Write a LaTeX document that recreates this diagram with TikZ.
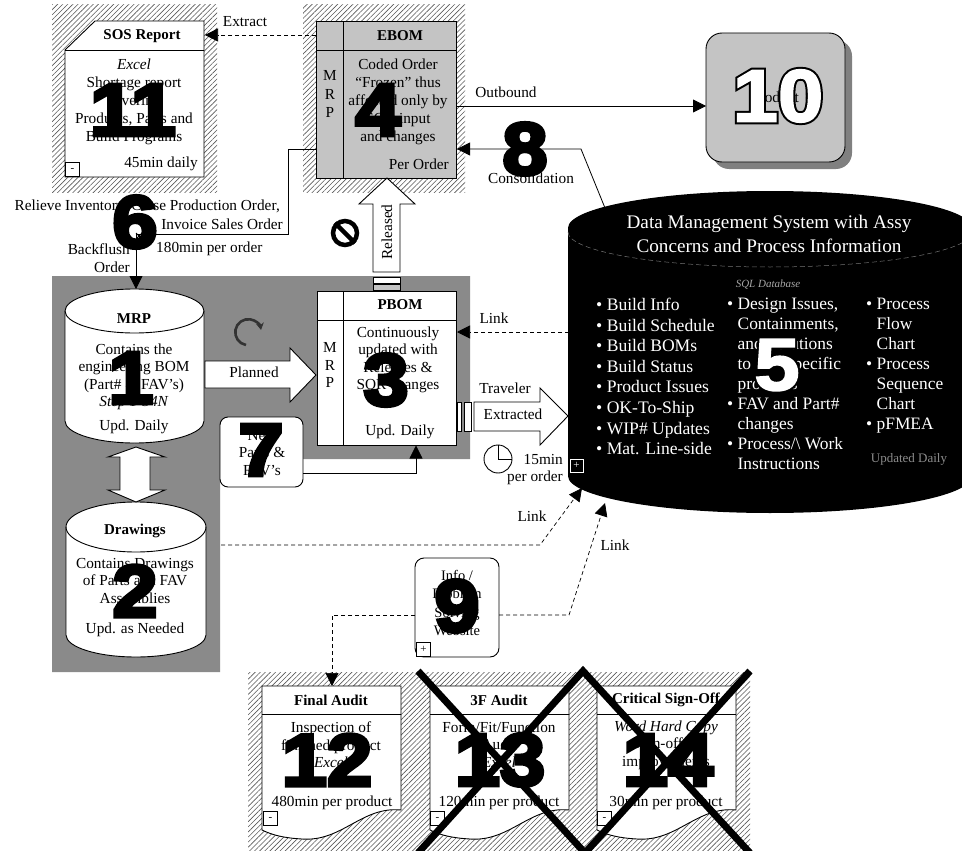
\documentclass[tikz,border=0pt]{standalone}
\usepackage{fontspec}
\setmainfont{Liberation Serif}
\newfontfamily\digitfont[FakeBold=5,FakeStretch=1.1]{Liberation Sans Bold}
\newfontfamily\outfont[FakeBold=8,FakeStretch=1.1]{Liberation Sans Bold}
\newfontfamily\infont[FakeBold=2.5,FakeStretch=1.1]{Liberation Sans Bold}
\usetikzlibrary{arrows.meta,patterns.meta,calc}
\tikzset{
 hatch/.style={pattern={Lines[angle=45,distance=3.6pt,line width=.6pt]},pattern color=black!65},
 zone/.style={fill=black!46,draw=none},
 boxbase/.style={rectangle,draw=black,line width=.9pt,inner sep=0,fill=#1},
 boxbase/.default=white,
 rule/.style={line width=.9pt},
 txt/.style={font=\fontsize{15.3}{18}\selectfont,align=center,inner sep=0,text=black},
 txts/.style={font=\fontsize{15.3}{17.5}\selectfont,align=center,inner sep=0,text=black},
 ttl/.style={font=\fontsize{15}{18}\selectfont\bfseries,inner sep=0},
 lab/.style={font=\fontsize{15.3}{17}\selectfont,inner sep=0,align=left},
 dbtxt/.style={font=\fontsize{17.6}{20.6}\selectfont,inner sep=0,align=left,text=white},
 flow/.style={line width=.8pt,-{Triangle[length=13pt,width=13pt]}},
 link/.style={line width=.7pt,dash pattern=on 4pt off 3pt,-{Triangle[length=13pt,width=13pt]}},
 blockarrow/.style={draw=black,fill=white,line width=.9pt},
 big/.style={font=\fontsize{74}{74}\selectfont\digitfont,inner sep=0,text=black},
 bigo/.style={font=\fontsize{74}{74}\selectfont\outfont,inner sep=0,text=black},
 bigi/.style={font=\fontsize{74}{74}\selectfont\infont,inner sep=0,text=white},
 tog/.style={rectangle,draw=black,line width=.8pt,fill=white,minimum size=14pt,inner sep=0,font=\fontsize{11}{11}\selectfont},
}
\newcommand{\docshape}[1]{%
 \fill[white] (#1,686) -- (#1+139,686) -- (#1+139,810) .. controls (#1+100,806) and (#1+80,842) .. (#1+40,839) .. controls (#1+22,838) and (#1+10,835) .. (#1,830) -- cycle;
 \draw[line width=.9pt] (#1,686) -- (#1+139,686) -- (#1+139,810) .. controls (#1+100,806) and (#1+80,842) .. (#1+40,839) .. controls (#1+22,838) and (#1+10,835) .. (#1,830) -- cycle;
 \draw[rule] (#1,714) -- (#1+139,714);
}
\begin{document}
\begin{tikzpicture}[x=1pt,y=-1pt]
\clip (0,0) rectangle (962,851);
\fill[white] (0,0) rectangle (962,851);
% backdrops
\fill[hatch] (52,5) rectangle (217,192);
\fill[hatch] (303,5) rectangle (465,192);
\fill[hatch] (248,672) rectangle (750,851);
\fill[zone] (52,276) -- (470,276) -- (470,459) -- (220,459) -- (220,672) -- (52,672) -- cycle;

% SOS report
\fill[white] (95,21) -- (204,21) -- (204,177) -- (65,177) -- (65,50) -- cycle;
\draw[line width=.9pt] (95,21) -- (204,21) -- (204,177) -- (65,177) -- (65,50) -- cycle;
\draw[rule] (65,50) -- (204,50);
\node[ttl] (sosT) at (142,36) {SOS Report};
\node[txt] (sosB) at (134,102) {\textit{Excel}\\Shortage report\\covering\\Products, Parts and\\Build Programs};
\node[txt,anchor=east] (sosF) at (198,164) {45min daily};
\node[tog,anchor=south west] (sosM) at (65,177) {-};

% EBOM
\node[boxbase=black!23,minimum width=140pt,minimum height=157pt] (ebom) at (386,99.5) {};
\draw[rule] (343,21) -- (343,178);
\draw[rule] (316,50) -- (456,50);
\node[ttl] (ebomT) at (400,36) {EBOM};
\node[txt,font=\fontsize{15.3}{18.2}\selectfont] (ebomM) at (330,94) {M\\R\\P};
\node[txt] (ebomB) at (398,102) {Coded Order\\“Frozen” thus\\affected only by\\SOR input\\and changes};
\node[txt,anchor=east] (ebomF) at (449,164) {Per Order};

% Product
\fill[black!50,rounded corners=16pt] (713,40) rectangle (852,169);
\node[boxbase=black!23,rounded corners=16pt,minimum width=139pt,minimum height=129pt] (prod) at (775.5,97.5) {};
\node[txt] (prodT) at (775,97) {Product};

% MRP cylinder
\filldraw[fill=white,line width=.9pt] (65,311) arc[start angle=180,end angle=0,x radius=69.5pt,y radius=22pt] -- (204,421) arc[start angle=360,end angle=180,x radius=69.5pt,y radius=22pt] -- cycle;
\draw[line width=.9pt] (65,311) arc[start angle=180,end angle=360,x radius=69.5pt,y radius=22pt];
\node[inner sep=0,minimum width=139pt,minimum height=154pt] (mrp) at (134.5,366) {};
\node[ttl] (mrpT) at (134,319) {MRP};
\node[txts] (mrpB) at (134,377) {Contains the\\engineering BOM\\(Part\# \& FAV’s)\\\textit{Step 1-34N}};
\node[txt] (mrpF) at (134,427) {Upd. Daily};

% Drawings cylinder
\filldraw[fill=white,line width=.9pt] (66,527) arc[start angle=180,end angle=0,x radius=70pt,y radius=25pt] -- (206,635) arc[start angle=360,end angle=180,x radius=70pt,y radius=22pt] -- cycle;
\draw[line width=.9pt] (66,527) arc[start angle=180,end angle=360,x radius=70pt,y radius=25pt];
\node[inner sep=0,minimum width=140pt,minimum height=155pt] (drw) at (136,579.5) {};
\node[ttl] (drwT) at (135,531) {Drawings};
\node[txts] (drwB) at (135,581) {Contains Drawings\\of Parts and FAV\\Assemblies};
\node[txt] (drwF) at (135,630) {Upd. as Needed};

% double arrow MRP <-> Drawings
\draw[blockarrow] (136,447) -- (165,457) -- (150,457) -- (150,490) -- (165,490) -- (136,502) -- (108,490) -- (120,490) -- (120,457) -- (108,457) -- cycle;

% PBOM
\node[boxbase,minimum width=139pt,minimum height=154pt] (pbom) at (386.5,368) {};
\draw[rule] (343,291) -- (343,445);
\draw[rule] (317,320) -- (456,320);
\node[ttl] (pbomT) at (400,305) {PBOM};
\node[txt,font=\fontsize{15.3}{17.6}\selectfont] (pbomM) at (330,365) {M\\R\\P};
\node[txts] (pbomB) at (398,360) {Continuously\\updated with\\Releases \&\\SOR changes};
\node[txt] (pbomF) at (400,432) {Upd. Daily};

% Planned arrow
\draw[blockarrow] (205,361) -- (290,361) -- (290,348) -- (316,375) -- (290,402) -- (290,388) -- (205,388) -- cycle;
\node[lab] (plan) at (254,372) {Planned};

% rotate icon
\coordinate (rotS) at (246,345);
\draw[line width=2.6pt,black!80,-{Stealth[length=7pt,width=8pt]}] (rotS) arc[start angle=260,end angle=10,radius=13pt];

% New Parts
\node[boxbase,rounded corners=8pt,minimum width=83pt,minimum height=70pt] (newp) at (261.5,452) {};
\node[txts] (newpT) at (262,453) {New\\Parts \&\\FAV’s};
\coordinate (newOut) at (303,473);
\coordinate (pbomIn) at (416,445.5);
\draw[flow] (newOut) -| (pbomIn);

% Released arrow
\draw[blockarrow] (387,178) -- (415,204) -- (400,204) -- (400,272) -- (373,272) -- (373,204) -- (359,204) -- cycle;
\node[lab,rotate=90] (rel) at (387,232) {Released};
\node[boxbase,minimum width=27pt,minimum height=6.5pt] (relA) at (386.5,280.5) {};
\node[boxbase=black!23,minimum width=27pt,minimum height=6pt] (relB) at (386.5,287) {};

% no entry
\node[circle,draw=black,line width=4.5pt,minimum size=24pt,inner sep=0] (noent) at (345,233) {};
\draw[line width=4.5pt] (noent.135) -- (noent.-45);

% Data management system
\fill[black] (568,228) arc[start angle=180,end angle=0,x radius=202pt,y radius=37pt] -- (972,476) arc[start angle=360,end angle=180,x radius=202pt,y radius=37pt] -- cycle;
\draw[black!55,line width=.5pt,dash pattern=on 5pt off 3pt] (568,232) arc[start angle=180,end angle=360,x radius=202pt,y radius=35pt];
\node[inner sep=0,minimum width=404pt,minimum height=322pt] (db) at (770,352) {};
\node[dbtxt,align=center,font=\fontsize{19.2}{24}\selectfont] (dbT) at (769,234) {Data Management System with Assy\\Concerns and Process Information};
\node[font=\fontsize{11}{13}\selectfont\itshape,text=black!35,inner sep=0] (dbS) at (768,285) {SQL Database};
\node[dbtxt,anchor=north west] (dbA) at (596,298) {• Build Info\\• Build Schedule\\• Build BOMs\\• Build Status\\• Product Issues\\• OK-To-Ship\\• WIP\# Updates\\• Mat. Line-side};
\node[dbtxt,anchor=north west,font=\fontsize{17.4}{20}\selectfont] (dbB) at (727,298) {• Design Issues,\\\phantom{• }Containments,\\\phantom{• }and Solutions\\\phantom{• }to \phantom{unit} specific\\\phantom{• }products\\• FAV and Part\#\\\phantom{• }changes\\• Process/\textbackslash\ Work\\\phantom{• }Instructions};
\node[dbtxt,anchor=north west,font=\fontsize{17.4}{20}\selectfont] (dbC) at (866,298) {• Process\\\phantom{• }Flow\\\phantom{• }Chart\\• Process\\\phantom{• }Sequence\\\phantom{• }Chart\\• pFMEA};
\node[font=\fontsize{13}{15}\selectfont,text=black!45,inner sep=0] (dbU) at (909,459) {Updated Daily};
\node[tog,draw=white,fill=black,text=white,minimum size=13pt] (dbP) at (576.5,465.5) {+};

% Traveler arrow
\node[boxbase,minimum width=4pt,minimum height=29pt] (trA) at (459,416.5) {};
\node[boxbase,minimum width=7pt,minimum height=29pt] (trB) at (467.5,416.5) {};
\draw[blockarrow] (474,402) -- (540,402) -- (540,388) -- (568,416) -- (540,445) -- (540,431) -- (474,431) -- cycle;
\node[lab] (trT) at (505,388) {Traveler};
\node[lab] (trE) at (513,414.5) {Extracted};

% clock
\node[circle,draw=black,line width=.9pt,minimum size=28pt,inner sep=0] (clock) at (498,459) {};
\draw[line width=.9pt] (clock.north) -- (clock.center) -- (clock.east);
\node[lab,anchor=east] (tm) at (563,460) {15min};
\node[lab,anchor=east] (tmb) at (563,478) {per order};

% connectors around EBOM / PBOM
\coordinate (ebX) at (316,35);
\coordinate (sosX) at (205,35);
\draw[link] (ebX) -- (sosX);
\node[lab] (lbEx) at (245,22) {Extract};
\coordinate (ebO) at (456,106);
\coordinate (prO) at (706,106);
\draw[flow] (ebO) -- (prO);
\node[lab] (lbOut) at (506,92) {Outbound};
\coordinate (dbCon) at (605,208);
\coordinate (conB) at (581,149);
\coordinate (ebC) at (457,149);
\draw[flow] (dbCon) -- (conB) -- (ebC);
\node[lab] (lbCon) at (531,178) {Consolidation};
\coordinate (ebL) at (316,149);
\coordinate (bfA) at (288,149);
\coordinate (bfB) at (288,234);
\coordinate (bfC) at (136,234);
\coordinate (mrpIn) at (136,289);
\draw[flow] (ebL) -- (bfA) -- (bfB) -- (bfC) -- (mrpIn);
\node[lab,anchor=east] (lbRel) at (280,207) {Relieve Inventory, Close Production Order,};
\node[lab,anchor=east] (lbInv) at (283,224) {Invoice Sales Order};
\node[lab,anchor=east] (lbBack) at (130,249) {Backflush};
\node[lab,anchor=west] (lbMin) at (156,249) {180min per order};
\node[lab,anchor=east] (lbOrd) at (130,267) {Order};

% link DB -> PBOM
\coordinate (dbL) at (569,332);
\coordinate (pbR) at (457,332);
\draw[link] (dbL) -- (pbR);
\node[lab] (lbLk1) at (494,318) {Link};

% link Drawings -> DB
\coordinate (drwR) at (221,545);
\coordinate (lkB) at (540,545);
\coordinate (dbI1) at (582,488);
\draw[link] (drwR) -- (lkB) -- (dbI1);
\node[lab] (lbLk2) at (532,516) {Link};

% Info box
\node[boxbase,rounded corners=9pt,minimum width=84pt,minimum height=99pt] (info) at (457,607.5) {};
\node[txts,font=\fontsize{14.5}{18.6}\selectfont] (infoT) at (457,603) {Info /\\Problem\\Solving\\Website};
\node[tog,anchor=south west] (infoP) at (416,657) {+};
\coordinate (infR) at (499,615);
\coordinate (lkC) at (569,615);
\coordinate (dbI2) at (605,503);
\draw[link] (infR) -- (lkC) -- (dbI2);
\node[lab] (lbLk3) at (615,545) {Link};
\coordinate (infL) at (415,615);
\coordinate (fnC) at (332,615);
\coordinate (fnIn) at (332,686);

% Documents
\docshape{262}
\docshape{430}
\docshape{597}
\draw[link] (infL) -- (fnC) -- (fnIn);
\node[ttl] (faT) at (331,700) {Final Audit};
\node[txts] (faB) at (331,745) {Inspection of\\finished product\\\textit{Excel}};
\node[txt] (faF) at (332,803) {480min per product};
\node[tog,anchor=south west] (faM) at (263,826) {-};
\node[ttl] (f3T) at (499,700) {3F Audit};
\node[txts] (f3B) at (499,745) {Form/Fit/Function\\Audit\\\textit{Excel}};
\node[txt] (f3F) at (499,803) {120min per product};
\node[tog,anchor=south west] (f3M) at (430,826) {-};
\node[ttl] (csT) at (666,700) {Critical Sign-Off};
\node[txts] (csB) at (666,745) {\textit{Word Hard Copy}\\Sign-off of\\improvements};
\node[txt] (csF) at (666,803) {30min per product};
\node[tog,anchor=south west] (csM) at (597,826) {-};

% Large numerals
\node[big] (n1) at (131,378) {1};
\node[big] (n2) at (135,591) {2};
\node[big] (n3) at (386,380) {3};
\node[big] (n4) at (378,110) {4};
\node[bigo] (n5o) at (777,365) {5};
\node[bigi] (n5) at (777,365) {5};
\node[big] (n6) at (135,222) {6};
\node[big] (n7) at (261,450) {7};
\node[big] (n8) at (525,149) {8};
\node[big] (n9) at (457,606) {9};
\node[bigo] (n10o) at (778,96) {10};
\node[bigi] (n10) at (778,96) {10};
\node[big] (n11) at (133,110) {11};
\node[big] (n12) at (327,760) {12};
\node[big] (n13) at (500,760) {13};
\node[big] (n14) at (668,760) {14};

% crossing mark on the line
\coordinate (xm) at (139,236);
\draw[line width=1pt] ([shift={(-3pt,3pt)}]xm) -- ([shift={(3pt,-3pt)}]xm);
\draw[line width=1pt] ([shift={(-3pt,-3pt)}]xm) -- ([shift={(3pt,3pt)}]xm);

% strike-outs
\coordinate (xa) at (418,671);
\coordinate (xb) at (585,853);
\coordinate (xc) at (583,671);
\coordinate (xd) at (418,853);
\coordinate (xe) at (750,853);
\coordinate (xf) at (750,671);
\draw[line width=7pt] (xa) -- (xb);
\draw[line width=7pt] (xd) -- (xc) -- (xe);
\draw[line width=7pt] (xf) -- (xb);
\end{tikzpicture}
\end{document}
